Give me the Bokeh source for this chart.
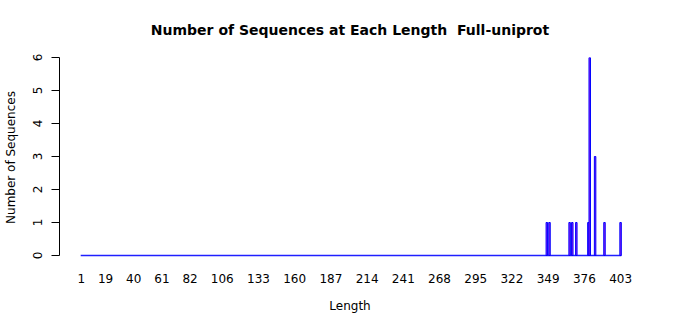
from bokeh.plotting import figure
from bokeh.models import Range1d, FixedTicker, ColumnDataSource
from bokeh.embed import file_html
from bokeh.resources import INLINE

# Data
min_length = 1
max_length = 403
nonzero_lengths = [348, 350, 365, 367, 370, 379, 380, 384, 391, 403]
nonzero_counts = [1, 1, 1, 1, 1, 1, 6, 3, 1, 1]
tick_labels = [1, 19, 40, 61, 82, 106, 133, 160, 187, 214, 241, 268, 295, 322, 349, 376, 403]

bar_src = ColumnDataSource(dict(x=nonzero_lengths, top=nonzero_counts))
# zero-count lengths appear only as the bars' baseline border
base_x = [min_length - 0.55, max_length + 0.55]
base_y = [0, 0]

FONT = "DejaVu Sans"

p = figure(width=700, height=315, output_backend="svg", toolbar_location=None,
           x_range=Range1d(-15.35, 417.85), y_range=Range1d(-2 / 33, 6),
           min_border_left=57, min_border_right=60, min_border_top=57, min_border_bottom=58)
p.outline_line_color = None
p.grid.visible = False
p.background_fill_color = "white"
p.border_fill_color = "white"

p.line(x=base_x, y=base_y, line_color="#2020FF", line_width=1.3)
p.vbar(x="x", top="top", bottom=0, width=1.1, source=bar_src,
       fill_color="#A020F0", line_color="#0000FF", line_width=1)

p.title.text = "Number of Sequences at Each Length\u00a0\u00a0Full-uniprot"
p.title.align = "center"
p.title.text_font = FONT
p.title.text_font_style = "bold"
p.title.text_font_size = "14px"
p.title.text_color = "black"
p.title.standoff = 39

xa = p.xaxis[0]
xa.ticker = FixedTicker(ticks=tick_labels)
xa.axis_line_color = None
xa.major_tick_line_color = None
xa.minor_tick_line_color = None
xa.major_label_standoff = 10
xa.major_label_text_font = FONT
xa.major_label_text_font_size = "12px"
xa.major_label_text_color = "black"
xa.axis_label = "Length"
xa.axis_label_text_font = FONT
xa.axis_label_text_font_size = "12px"
xa.axis_label_text_font_style = "normal"
xa.axis_label_text_color = "black"
xa.axis_label_standoff = 13

ya = p.yaxis[0]
ya.ticker = FixedTicker(ticks=[0, 1, 2, 3, 4, 5, 6])
ya.bounds = (0, 6)
ya.major_tick_out = 8
ya.major_tick_in = 0
ya.minor_tick_line_color = None
ya.axis_line_color = "black"
ya.major_label_orientation = "vertical"
ya.major_label_standoff = 10
ya.major_label_text_font = FONT
ya.major_label_text_font_size = "12px"
ya.major_label_text_color = "black"
ya.axis_label = "Number of Sequences"
ya.axis_label_text_font = FONT
ya.axis_label_text_font_size = "12px"
ya.axis_label_text_font_style = "normal"
ya.axis_label_text_color = "black"
ya.axis_label_standoff = 12

open("out.html", "w").write(file_html(p, INLINE))
